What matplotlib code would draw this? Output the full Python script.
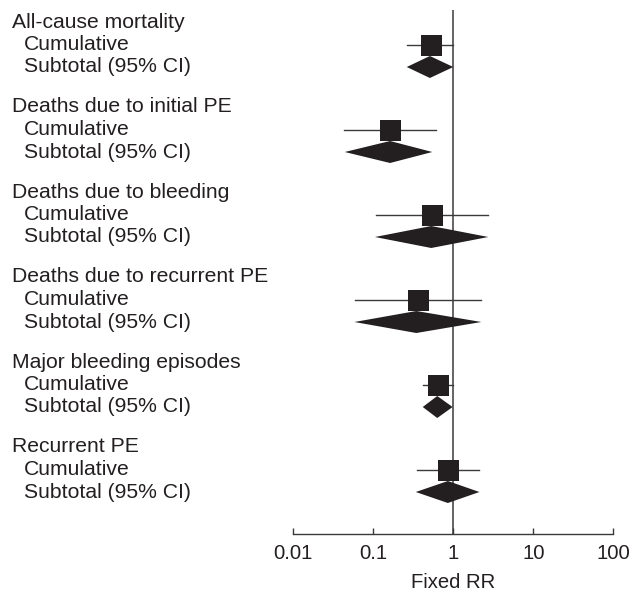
import matplotlib
matplotlib.use("Agg")
import matplotlib.pyplot as plt
import matplotlib.transforms as mtransforms
from matplotlib.patches import Polygon
from matplotlib.ticker import FixedLocator, FixedFormatter, NullLocator

plt.rcParams['font.family'] = ['Liberation Sans', 'DejaVu Sans']

# ---- data ----
groups = ["All-cause mortality", "Deaths due to initial PE", "Deaths due to bleeding",
          "Deaths due to recurrent PE", "Major bleeding episodes", "Recurrent PE"]
cum_est = [0.52, 0.16, 0.535, 0.36, 0.645, 0.85]
cum_lo = [0.263, 0.0434, 0.107, 0.0584, 0.417, 0.351]
cum_hi = [0.99, 0.60, 2.74, 2.24, 0.99, 2.09]
sub_est = [0.51, 0.162, 0.53, 0.345, 0.63, 0.855]
sub_lo = [0.262, 0.044, 0.105, 0.058, 0.415, 0.34]
sub_hi = [1.0, 0.546, 2.74, 2.24, 0.98, 2.12]
sub_labels = ["Cumulative", "Subtotal (95% CI)"]
tick_vals = [0.01, 0.1, 1, 10, 100]
tick_labels = ["0.01", "0.1", "1", "10", "100"]
xlabel = "Fixed RR"

W, H = 633, 591
fig = plt.figure(figsize=(W / 100, H / 100), dpi=100)
ax_left, ax_right = 293.3, 613.3
ax_top, ax_bot = 10, 534
ax = fig.add_axes([ax_left / W, 1 - ax_bot / H, (ax_right - ax_left) / W, (ax_bot - ax_top) / H])
ax.set_xscale('log')
ax.set_xlim(0.01, 100)
ax.set_ylim(ax_bot, ax_top)  # y in pixel rows

col = '#231f20'
fs = 15.2
tfs = 14.6
first = 22.0
step = 85.0
gap = 22.5
sq = 21 * 72 / 100  # px -> pt
dh = 11.0

ax.axvline(1, color='#3a3a3a', lw=1.1, zorder=1)
fig_tr = mtransforms.blended_transform_factory(fig.transFigure, ax.transData)

for i, g in enumerate(groups):
    yh = first + i * step
    yc = yh + gap
    ys = yh + 2 * gap
    ax.text(12 / W, yh, g, transform=fig_tr, fontsize=fs, va='center', ha='left', color=col, clip_on=False)
    ax.text(24 / W, yc, sub_labels[0], transform=fig_tr, fontsize=fs, va='center', ha='left', color=col, clip_on=False)
    ax.text(24 / W, ys, sub_labels[1], transform=fig_tr, fontsize=fs, va='center', ha='left', color=col, clip_on=False)
    ax.plot([cum_lo[i], cum_hi[i]], [yc, yc], color='#3a3a3a', lw=1.0, zorder=2)
    ax.plot([cum_est[i]], [yc], marker='s', ms=sq, mew=0, color=col, zorder=3)
    poly = Polygon([(sub_lo[i], ys), (sub_est[i], ys - dh), (sub_hi[i], ys), (sub_est[i], ys + dh)],
                   closed=True, facecolor=col, edgecolor='none', zorder=3)
    ax.add_patch(poly)

for s in ['top', 'right', 'left']:
    ax.spines[s].set_visible(False)
ax.spines['bottom'].set_color('#3a3a3a')
ax.spines['bottom'].set_linewidth(1.0)
ax.set_yticks([])
ax.xaxis.set_major_locator(FixedLocator(tick_vals))
ax.xaxis.set_major_formatter(FixedFormatter(tick_labels))
ax.xaxis.set_minor_locator(NullLocator())
ax.tick_params(axis='x', direction='in', length=4, width=1.0, color='#3a3a3a',
               labelsize=tfs, labelcolor=col, pad=7)
ax.set_xlabel(xlabel, fontsize=tfs, color=col)
ax.xaxis.set_label_coords(0.5, -(573 - ax_bot) / (ax_bot - ax_top))
ax.patch.set_alpha(0)

fig.savefig('out.png', dpi=100)
